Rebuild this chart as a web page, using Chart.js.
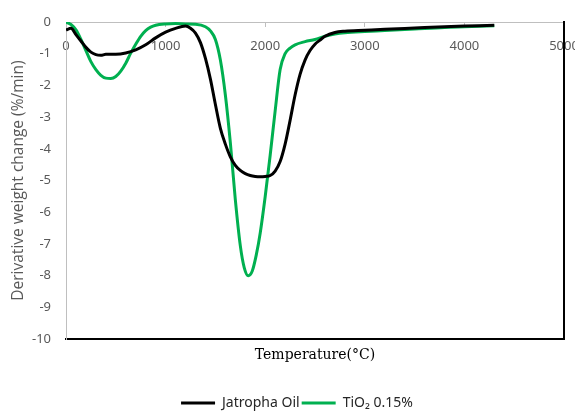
<!DOCTYPE html>
<html>
<head>
<meta charset="utf-8">
<script src="https://cdn.jsdelivr.net/npm/chart.js@4.4.1/dist/chart.umd.min.js"></script>
<style>
  html, body { margin: 0; padding: 0; background: #fff; }
  #wrap { width: 575px; height: 412px; }
</style>
</head>
<body>
<div id="wrap"><canvas id="myChart"></canvas></div>
<script>
// temperatures (°C) and derivative weight change (%/min)
const jatrophaTemp = [0, 50, 100, 150, 200, 250, 300, 350, 400, 500, 600, 700, 800, 900, 1000, 1100, 1200, 1250, 1300, 1350, 1400, 1450, 1500, 1550, 1600, 1650, 1700, 1750, 1800, 1850, 1900, 1950, 2000, 2050, 2100, 2150, 2200, 2250, 2300, 2350, 2400, 2450, 2500, 2550, 2600, 2700, 2800, 3000, 3200, 3500, 3800, 4000, 4300];
const jatrophaVal = [-0.25, -0.2, -0.4, -0.6, -0.8, -0.95, -1.03, -1.05, -1.02, -1.02, -0.98, -0.88, -0.72, -0.5, -0.32, -0.2, -0.13, -0.2, -0.35, -0.65, -1.15, -1.8, -2.6, -3.35, -3.85, -4.25, -4.52, -4.68, -4.78, -4.84, -4.87, -4.88, -4.87, -4.84, -4.7, -4.4, -3.85, -3.1, -2.3, -1.65, -1.2, -0.9, -0.7, -0.57, -0.45, -0.33, -0.29, -0.26, -0.23, -0.19, -0.15, -0.13, -0.1];

const tioTemp = [0, 50, 100, 150, 200, 250, 300, 350, 400, 450, 500, 550, 600, 650, 700, 750, 800, 850, 900, 1000, 1100, 1200, 1300, 1400, 1450, 1500, 1550, 1600, 1650, 1700, 1750, 1790, 1830, 1870, 1910, 1950, 2000, 2050, 2100, 2150, 2200, 2250, 2300, 2400, 2500, 2600, 2700, 2800, 3000, 3200, 3500, 3800, 4000, 4300];
const tioVal = [0, -0.08, -0.25, -0.55, -0.9, -1.25, -1.5, -1.68, -1.77, -1.78, -1.72, -1.55, -1.3, -0.98, -0.7, -0.45, -0.27, -0.16, -0.1, -0.06, -0.05, -0.06, -0.07, -0.15, -0.28, -0.55, -1.2, -2.3, -3.8, -5.6, -7.05, -7.75, -8.0, -7.85, -7.35, -6.65, -5.5, -4.2, -2.8, -1.5, -1.0, -0.82, -0.72, -0.62, -0.55, -0.45, -0.38, -0.34, -0.3, -0.27, -0.22, -0.17, -0.15, -0.12];

const seriesNames = ['Jatropha Oil', 'TiO\u2082 0.15%'];
const xTitle = 'Temperature(\u00B0C)';
const yTitle = 'Derivative weight change (%/min)';

const toPoints = (xs, ys) => xs.map((x, i) => ({ x: x, y: ys[i] }));

const ctx = document.getElementById('myChart').getContext('2d');
const chart = new Chart(ctx, {
    type: 'scatter',
    data: {
        datasets: [{
            label: seriesNames[0],
            data: toPoints(jatrophaTemp, jatrophaVal),
            borderColor: '#000000',
            backgroundColor: '#000000',
            borderWidth: 3,
            showLine: true,
            pointRadius: 0,
            cubicInterpolationMode: 'monotone'
        },
            {
                label: seriesNames[1],
                data: toPoints(tioTemp, tioVal),
                borderColor: '#00b050',
                backgroundColor: '#00b050',
                borderWidth: 3,
                showLine: true,
                pointRadius: 0,
                cubicInterpolationMode: 'monotone'
            }]
    },
    options: {
        responsive: true,
        maintainAspectRatio: false,
        animation: false,
        // left padding pushes the legend to the right like in the picture
        layout: { padding: { top: 22, right: 11, left: 30, bottom: -8 } },
        plugins: {
            tooltip: { enabled: false },
            legend: {
                position: 'bottom',
                labels: {
                    usePointStyle: true,
                    pointStyle: 'line',
                    pointStyleWidth: 34,
                    color: '#262626',
                    font: { family: 'Noto Sans', size: 14 },
                    padding: 2
                }
            }
        },
        scales: {
            x: {
                type: 'linear',
                min: 0,
                max: 5000,
                position: { y: 0 },
                ticks: {
                    stepSize: 1000, color: '#595959', font: { family: 'Noto Sans', size: 13 }, padding: 12,
                    callback: (v) => String(v)
                },
                grid: { drawOnChartArea: false, color: '#bfbfbf', tickLength: 4 },
                border: { color: '#bfbfbf', width: 1 },
                afterFit: (scale) => { scale.paddingRight = 0; scale.paddingLeft = 0; }
            },
            x2: {
                type: 'linear',
                axis: 'x',
                position: 'bottom',
                ticks: { display: false },
                grid: { display: false },
                border: { color: '#000000', width: 2 },
                title: {
                    display: true,
                    text: xTitle,
                    color: '#000000',
                    font: { family: 'DejaVu Serif', size: 14 },
                    padding: { top: 0, bottom: 30 }
                },
                afterFit: (scale) => { scale.paddingRight = 0; scale.paddingLeft = 0; }
            },
            y: {
                min: -10,
                max: 0,
                ticks: { stepSize: 1, color: '#595959', font: { family: 'Noto Sans', size: 13 }, padding: 7 },
                grid: { display: false },
                border: { color: '#bfbfbf', width: 1 },
                title: {
                    display: true,
                    text: yTitle,
                    color: '#595959',
                    font: { family: 'Open Sans', size: 15.5 },
                    padding: { top: -21, bottom: 4 }
                },
                afterFit: (scale) => { scale.width = 36; }
            },
            y2: {
                type: 'linear',
                axis: 'y',
                position: 'right',
                ticks: { display: false },
                grid: { display: false },
                border: { color: '#000000', width: 2 },
                afterFit: (scale) => { scale.width = 0; }
            }
        }
    }
});
</script>
</body>
</html>
